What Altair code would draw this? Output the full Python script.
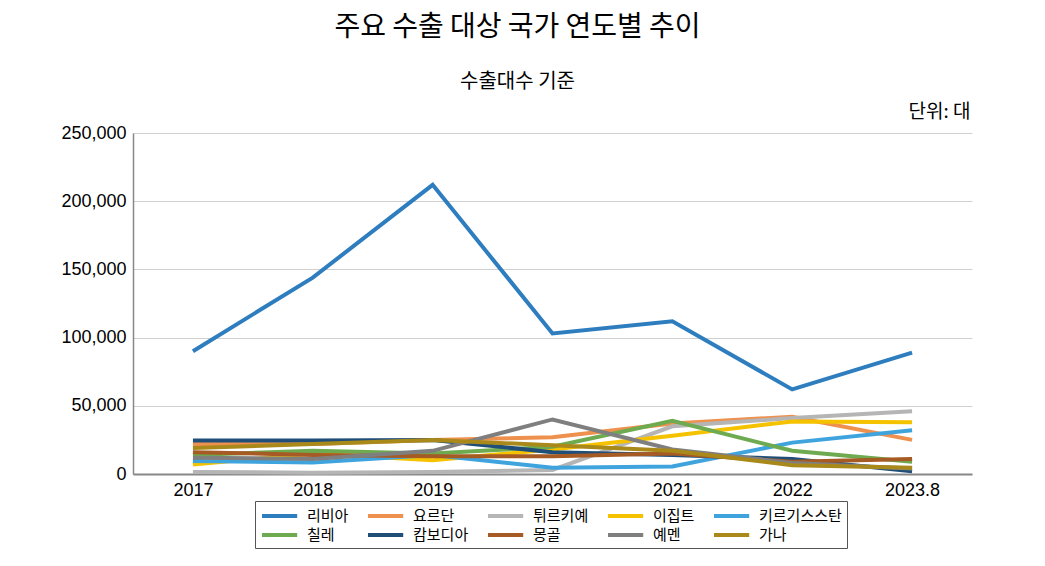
import altair as alt
import pandas as pd

years = ["2017", "2018", "2019", "2020", "2021", "2022", "2023.8"]
countries = ["리비아", "요르단", "튀르키예", "이집트", "키르기스스탄",
             "칠레", "캄보디아", "몽골", "예멘", "가나"]
colors = ["#2E7EBF", "#EE914E", "#B5B5B5", "#F5C200", "#3FA4DD",
          "#6EAB50", "#1F4E79", "#A65A24", "#7F7F7F", "#A8891A"]

libya      = [90000, 144000, 212000, 103000, 112000, 62000, 89000]
jordan     = [22000, 22000, 25000, 27000, 37000, 42000, 25000]
turkiye    = [1500, 1000, 1500, 3000, 35000, 41000, 46000]
egypt      = [7000, 15000, 10000, 18000, 28000, 38500, 38000]
kyrgyzstan = [9500, 8500, 14000, 4500, 5500, 23000, 32000]
chile      = [14000, 17000, 15000, 20000, 39000, 17000, 9000]
cambodia   = [24500, 24500, 25000, 16000, 14000, 11000, 2000]
mongolia   = [16000, 14000, 13000, 13000, 15000, 9000, 11000]
yemen      = [12000, 11000, 17000, 40000, 18000, 8000, 4000]
ghana      = [19000, 22000, 25000, 21000, 17000, 6500, 4500]

series = [libya, jordan, turkiye, egypt, kyrgyzstan,
          chile, cambodia, mongolia, yemen, ghana]

rows = []
for c, vals in zip(countries, series):
    for y, v in zip(years, vals):
        rows.append({"국가": c, "연도": y, "대수": v})
df = pd.DataFrame(rows)

FONT = "Noto Sans CJK KR"
NUMFONT = "Liberation Sans"

chart = alt.Chart(df).mark_line(strokeWidth=4).encode(
    x=alt.X("연도:O", sort=years,
            scale=alt.Scale(type="point", padding=0.5),
            axis=alt.Axis(title=None, labelAngle=0, labelFontSize=18,
                          labelColor="black", labelFont=NUMFONT, ticks=False,
                          labelPadding=7, domainColor="#888888",
                          domainWidth=2, grid=False)),
    y=alt.Y("대수:Q",
            scale=alt.Scale(domain=[0, 250000], nice=False),
            axis=alt.Axis(values=[0, 50000, 100000, 150000, 200000, 250000],
                          format=",d", labelFontSize=18, labelColor="black",
                          labelFont=NUMFONT, ticks=False, labelPadding=7,
                          domainColor="#888888", domainWidth=1.5,
                          gridColor="#D0D0D0", gridWidth=1,
                          title="단위: 대", titleAngle=0, titleX=837,
                          titleY=-12, titleAlign="right",
                          titleBaseline="bottom", titleFontSize=19,
                          titleFontWeight="normal", titleFont=FONT,
                          titleColor="black")),
    color=alt.Color("국가:N", sort=countries,
                    scale=alt.Scale(domain=countries, range=colors),
                    legend=alt.Legend(title=None, orient="none",
                                      legendX=122, legendY=368,
                                      direction="horizontal", columns=5,
                                      strokeColor="#555555", padding=5,
                                      symbolType="M-1,0H3.4",
                                      symbolStrokeWidth=4, symbolSize=256,
                                      labelFontSize=15, labelFont=FONT,
                                      labelColor="black", labelOffset=27,
                                      rowPadding=1, columnPadding=11)),
).properties(
    width=839, height=341,
    autosize=alt.AutoSizeParams(type="none"),
    padding={"left": 125, "top": 125, "right": 60, "bottom": 92},
    title=alt.TitleParams(text="주요 수출 대상 국가 연도별 추이",
                          subtitle="수출대수 기준",
                          fontSize=28, subtitleFontSize=20,
                          font=FONT, subtitleFont=FONT,
                          fontWeight="normal", color="black",
                          subtitleColor="black", anchor="middle",
                          offset=10, subtitlePadding=30, dx=-35),
).configure_view(stroke=None)

chart.save("out.html", embed_options={"renderer": "svg", "actions": False})
